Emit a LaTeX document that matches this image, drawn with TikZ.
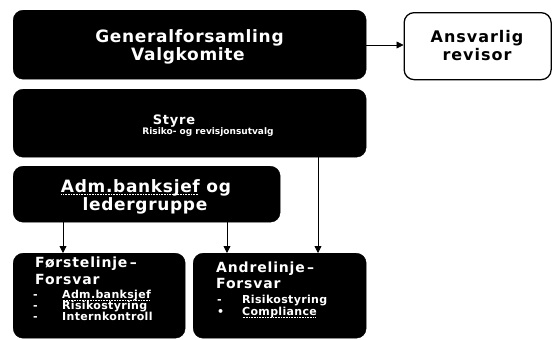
\documentclass[tikz,border=0pt]{standalone}
\usepackage{fontspec}
\setmainfont{DejaVu Sans}
\newfontfamily\lsA[LetterSpace=4]{DejaVu Sans}
\newfontfamily\lsB[LetterSpace=6]{DejaVu Sans}
\newfontfamily\lsC[LetterSpace=3]{DejaVu Sans}
\usetikzlibrary{arrows.meta}
\newcommand\dotul[1]{\setbox0\hbox{#1}\rlap{\raisebox{-2.2pt}[0pt][0pt]{\hbox to \wd0{\leaders\hbox to 1.6pt{\hss\rule{0.8pt}{0.7pt}\hss}\hfill}}}\box0\relax}
\tikzset{
  blackbox/.style={fill=black, draw=black, rounded corners=10pt, inner sep=0pt},
  whitebox/.style={fill=white, draw=black, line width=1.3pt, rounded corners=10pt, inner sep=0pt},
  wtext/.style={text=white, inner sep=0pt},
  bigtext/.style={font=\lsA\bfseries\fontsize{17}{19}\selectfont},
  headtext/.style={font=\lsB\bfseries\fontsize{14}{16}\selectfont},
  itemtext/.style={font=\lsC\bfseries\fontsize{11}{12}\selectfont},
  conn/.style={draw=black, line width=0.8pt, -{Triangle[length=7pt,width=7pt]}},
}
\begin{document}
\begin{tikzpicture}[x=1pt,y=-1pt]
\useasboundingbox[fill=white] (0,0) rectangle (552,340);
% boxes
\node[blackbox, anchor=north west, minimum width=353pt, minimum height=69pt] (gen) at (13,10) {};
\node[whitebox, anchor=north west, minimum width=147pt, minimum height=67pt] (rev) at (403.5,12) {};
\node[blackbox, anchor=north west, minimum width=353pt, minimum height=68pt] (sty) at (13,89) {};
\node[blackbox, anchor=north west, minimum width=267pt, minimum height=56pt] (adm) at (13,166) {};
\node[blackbox, anchor=north west, minimum width=172pt, minimum height=85pt] (first) at (13,253) {};
\node[blackbox, anchor=north west, minimum width=173pt, minimum height=85pt] (second) at (193,253) {};
% top texts
\node[wtext, bigtext, anchor=base] (gen1) at (189.5,42) {Generalforsamling};
\node[wtext, bigtext, anchor=base] (gen2) at (188,60) {Valgkomite};
\node[inner sep=0pt, font=\lsB\bfseries\fontsize{16}{18}\selectfont, anchor=base] (rev1) at (477,42) {Ansvarlig};
\node[inner sep=0pt, font=\lsB\bfseries\fontsize{16}{18}\selectfont, anchor=base] (rev2) at (477,60) {revisor};
\node[wtext, font=\lsB\bfseries\fontsize{13}{15}\selectfont, anchor=base] (sty1) at (174,124) {Styre};
\node[wtext, font=\bfseries\fontsize{9}{10}\selectfont, anchor=base] (sty2) at (208,134) {Risiko- og revisjonsutvalg};
\node[wtext, bigtext, anchor=base] (adm1) at (146,192) {\dotul{Adm.banksjef} og};
\node[wtext, bigtext, anchor=base] (adm2) at (145,210) {ledergruppe};
% first line of defence
\node[wtext, headtext, anchor=base west] (f1) at (35,267) {Førstelinje\,–};
\node[wtext, headtext, anchor=base west] (f2) at (35,284) {Forsvar};
\node[wtext, itemtext, anchor=base west] (fb1) at (33,298) {-};
\node[wtext, itemtext, anchor=base west] (fb2) at (33,309) {-};
\node[wtext, itemtext, anchor=base west] (fb3) at (33,320) {-};
\node[wtext, itemtext, anchor=base west] (fi1) at (62,298) {\dotul{Adm.banksjef}};
\node[wtext, itemtext, anchor=base west] (fi2) at (62,309) {Risikostyring};
\node[wtext, itemtext, anchor=base west] (fi3) at (62,320) {Internkontroll};
% second line of defence
\node[wtext, headtext, anchor=base west] (s1) at (216,272) {Andrelinje\,–};
\node[wtext, headtext, anchor=base west] (s2) at (216,288) {Forsvar};
\node[wtext, itemtext, anchor=base west] (sb1) at (217,303) {-};
\node[wtext, itemtext, anchor=base west] (sb2) at (217,315) {•};
\node[wtext, itemtext, anchor=base west] (si1) at (242,303) {Risikostyring};
\node[wtext, itemtext, anchor=base west] (si2) at (242,315) {\dotul{Compliance}};
% connectors
\draw[conn] (gen.east |- 0,45) -- (rev.west |- 0,45);
\coordinate (c1) at (318,157);
\coordinate (c2) at (63,222);
\coordinate (c3) at (227,222);
\draw[conn] (c1) -- (c1 |- second.north);
\draw[conn] (c2) -- (c2 |- first.north);
\draw[conn] (c3) -- (c3 |- second.north);
\end{tikzpicture}
\end{document}
